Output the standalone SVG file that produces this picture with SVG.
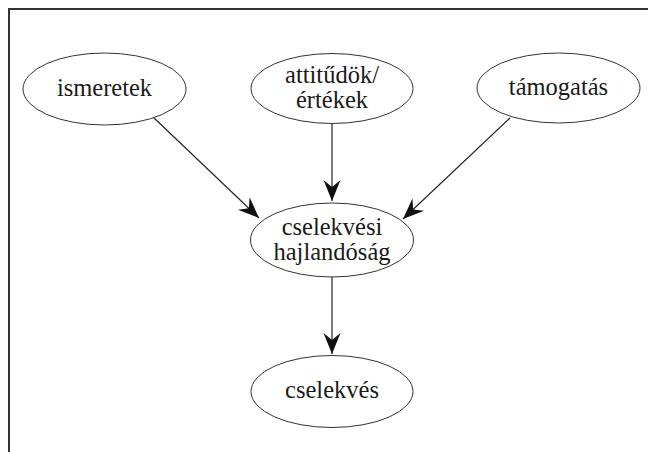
<svg xmlns="http://www.w3.org/2000/svg" width="648" height="452" viewBox="0 0 648 452">
<defs>
<style>
.node ellipse{fill:#fff;stroke:#333;stroke-width:1}
.node text{font-family:'Liberation Serif','Times New Roman',serif;font-size:24.5px;fill:#1a1a1a;text-anchor:middle}
.conn line{stroke:#222;stroke-width:1.2}
.frame{stroke:#333;stroke-width:2;fill:none}
</style>
<marker id="ah" viewBox="-22 -10 24 20" refX="0" refY="0" markerWidth="24" markerHeight="20" markerUnits="userSpaceOnUse" orient="auto">
<path d="M0,0 L-21,-8.5 L-14,0 L-21,8.5 Z" fill="#111"/>
</marker>
</defs>
<rect width="648" height="452" fill="#fff"/>
<path class="frame" d="M9,452 V9 H648"/>
<g class="conn">
<line x1="153" y1="117" x2="259" y2="218" marker-end="url(#ah)"/>
<line x1="332" y1="123" x2="332" y2="201" marker-end="url(#ah)"/>
<line x1="510" y1="118" x2="403" y2="219" marker-end="url(#ah)"/>
<line x1="332" y1="277" x2="332" y2="354" marker-end="url(#ah)"/>
</g>
<g id="ismeretek" class="node">
<ellipse cx="104.5" cy="89" rx="81.5" ry="36"/>
<text x="104.5" y="96">ismeretek</text>
</g>
<g id="attitudok" class="node">
<ellipse cx="332" cy="88.5" rx="81" ry="35"/>
<text x="332" y="83">attitűdök/</text>
<text x="332" y="108">értékek</text>
</g>
<g id="tamogatas" class="node">
<ellipse cx="558.5" cy="88" rx="81.5" ry="35"/>
<text x="558.5" y="95">támogatás</text>
</g>
<g id="hajlandosag" class="node">
<ellipse cx="332" cy="240" rx="81.5" ry="37"/>
<text x="332" y="235">cselekvési</text>
<text x="332" y="260">hajlandóság</text>
</g>
<g id="cselekves" class="node">
<ellipse cx="332" cy="391.5" rx="81" ry="36"/>
<text x="332" y="398">cselekvés</text>
</g>
</svg>
